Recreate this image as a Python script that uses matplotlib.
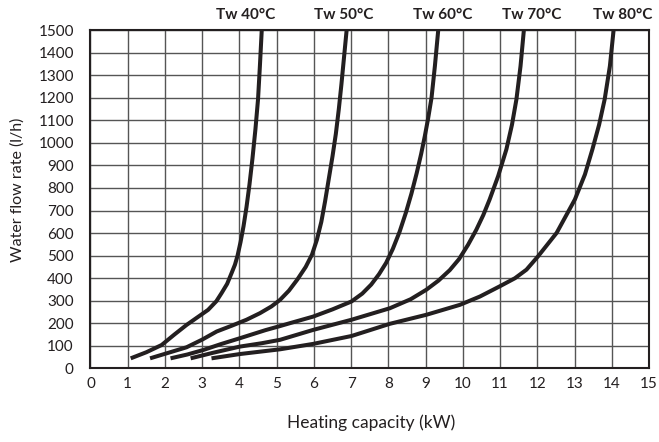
import numpy as np
import matplotlib
matplotlib.use('Agg')
import matplotlib.pyplot as plt
import matplotlib.transforms as mtransforms

plt.rcParams['font.family'] = ['Lato', 'DejaVu Sans']

# curves: heating capacity (kW) vs water flow (l/h)
x40 = [1.08, 1.5, 1.91, 2.25, 2.58, 2.9, 3.16, 3.38, 3.52, 3.67, 3.79, 3.88, 3.95,
       4.03, 4.11, 4.19, 4.27, 4.35, 4.43, 4.50, 4.55, 4.60]
y40 = [45, 72, 104, 150, 193, 230, 260, 298, 334, 375, 423, 460, 500,
       560, 630, 715, 815, 930, 1060, 1193, 1340, 1500]

x50 = [1.60, 2.1, 2.58, 3.0, 3.39, 3.8, 4.19, 4.55, 4.86, 5.09, 5.33, 5.55, 5.78,
       5.95, 6.08, 6.20, 6.30, 6.40, 6.50, 6.59, 6.67, 6.74, 6.81, 6.88]
y50 = [45, 70, 94, 128, 164, 190, 216, 245, 275, 304, 345, 393, 450,
       505, 570, 650, 740, 840, 940, 1040, 1150, 1260, 1380, 1500]

x60 = [2.15, 2.6, 3.03, 3.5, 4.01, 4.7, 5.09, 5.36, 5.98, 6.5, 7.01, 7.30, 7.54, 7.75,
       7.94, 8.12, 8.30, 8.47, 8.62, 8.76, 8.88, 8.98, 9.07, 9.16, 9.25, 9.34]
y60 = [45, 62, 82, 108, 134, 170, 188, 201, 230, 262, 297, 332, 372, 418,
       468, 530, 605, 690, 775, 865, 950, 1030, 1110, 1200, 1340, 1500]

x70 = [2.69, 3.3, 4.01, 4.6, 5.09, 5.98, 7.01, 8.04, 8.6, 9.02, 9.35, 9.65, 9.90,
       10.14, 10.36, 10.55, 10.72, 10.95, 11.17, 11.32, 11.44, 11.55, 11.64]
y70 = [45, 70, 97, 112, 127, 171, 216, 267, 307, 349, 390, 436, 485,
       548, 614, 680, 749, 853, 971, 1080, 1193, 1340, 1500]

x80 = [3.25, 4.01, 5.09, 5.98, 7.01, 8.04, 9.02, 9.92, 10.46, 10.99, 11.40, 11.71, 12.02,
       12.52, 13.01, 13.28, 13.48, 13.66, 13.81, 13.95, 14.05]
y80 = [45, 64, 85, 109, 144, 198, 238, 282, 319, 364, 400, 438, 497,
       601, 749, 860, 971, 1080, 1193, 1340, 1500]

labels = ['Tw 40°C', 'Tw 50°C', 'Tw 60°C', 'Tw 70°C', 'Tw 80°C']
label_x = [4.17, 6.80, 9.46, 11.85, 14.30]

xticks = list(range(0, 16))
yticks = list(range(0, 1501, 100))

fig = plt.figure(figsize=(6.59, 4.42), dpi=100)
ax = fig.add_axes([0.1373, 0.1663, 0.8475, 0.7658])

for xs, ys in [(x40, y40), (x50, y50), (x60, y60), (x70, y70), (x80, y80)]:
    ax.plot(xs, ys, color='#231f20', lw=2.9, solid_capstyle='butt',
            solid_joinstyle='round', zorder=3)

ax.set_xlim(0, 15)
ax.set_ylim(0, 1500)
ax.set_xticks(xticks)
ax.set_yticks(yticks)
ax.grid(True, color='#555555', lw=1.0)
ax.set_axisbelow(True)
ax.tick_params(length=0, labelsize=11, colors='#231f20', pad=12)
ax.tick_params(axis='x', pad=6)
for s in ax.spines.values():
    s.set_linewidth(1.5)
    s.set_color('#231f20')

ax.set_xlabel('Heating capacity (kW)', fontsize=12.5, color='#231f20')
ax.set_ylabel('Water flow rate (l/h)', fontsize=11.5, color='#231f20')
ax.xaxis.set_label_coords(0.502, -0.135)
ax.yaxis.set_label_coords(-0.118, 0.527)

trans = mtransforms.blended_transform_factory(ax.transData, ax.transAxes)
for lx, lab in zip(label_x, labels):
    ax.text(lx, 1.044, lab, transform=trans, ha='center', va='center',
            fontsize=11, fontweight='bold', color='#231f20')

fig.savefig('out.png', dpi=100)
